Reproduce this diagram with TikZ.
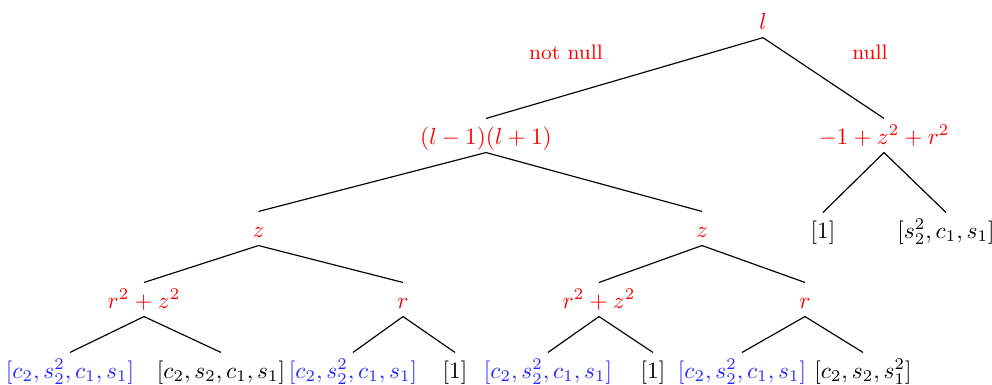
\documentclass[tikz,border=0pt]{standalone}
\usepackage{amsmath}
\begin{document}
\begin{tikzpicture}[x=0.4283pt,y=-0.4283pt,
  tn/.style={text height=1.75ex,text depth=0pt,inner sep=3.33pt},
  rn/.style={tn,text=red},
  bn/.style={tn,text=blue!85},
  kn/.style={tn,text=black},
  lab/.style={text=red,font=\small,inner sep=1pt},
  br/.style={draw=black,line width=0.5pt}]
\useasboundingbox (0,0) rectangle (992,385);
% level 0
\node[rn] (l) at (763,20.6) {$l$};
% level 1
\node[rn] (lm) at (486,135.5) {$(l-1)(l+1)$};
\node[rn] (mz) at (884,135.5) {$-1+z^2+r^2$};
\node[lab] (nn) at (566,52) {not null};
\node[lab] (nu) at (870,52) {null};
% level 2
\node[rn] (zl) at (258.5,228.5) {$z$};
\node[rn] (zr) at (702,228.5) {$z$};
\node[kn] (one0) at (823,229.5) {$[1]$};
\node[kn] (ss) at (946,229.5) {$[s_2^2,c_1,s_1]$};
% level 3
\node[rn] (rzl) at (144,299.5) {$r^2+z^2$};
\node[rn] (rl) at (403,299.5) {$r$};
\node[rn] (rzr) at (599,299.5) {$r^2+z^2$};
\node[rn] (rr) at (805,299.5) {$r$};
% leaves
\node[bn] (a1) at (70,369.5) {$[c_2,s_2^2,c_1,s_1]$};
\node[kn] (a2) at (221,369.5) {$[c_2,s_2,c_1,s_1]$};
\node[bn] (a3) at (353,369.5) {$[c_2,s_2^2,c_1,s_1]$};
\node[kn] (a4) at (455,369.5) {$[1]$};
\node[bn] (a5) at (548,369.5) {$[c_2,s_2^2,c_1,s_1]$};
\node[kn] (a6) at (653,369.5) {$[1]$};
\node[bn] (a7) at (742,369.5) {$[c_2,s_2^2,c_1,s_1]$};
\node[kn] (a8) at (863,369.5) {$[c_2,s_2,s_1^2]$};
% edges
\draw[br] (l.south) -- (lm.north);
\draw[br] (l.south) -- (mz.north);
\draw[br] (lm.south) -- (zl.north);
\draw[br] (lm.south) -- (zr.north);
\draw[br] (mz.south) -- (one0.north);
\draw[br] (mz.south) -- (ss.north);
\draw[br] (zl.south) -- (rzl.north);
\draw[br] (zl.south) -- (rl.north);
\draw[br] (zr.south) -- (rzr.north);
\draw[br] (zr.south) -- (rr.north);
\draw[br] (rzl.south) -- (a1.north);
\draw[br] (rzl.south) -- (a2.north);
\draw[br] (rl.south) -- (a3.north);
\draw[br] (rl.south) -- (a4.north);
\draw[br] (rzr.south) -- (a5.north);
\draw[br] (rzr.south) -- (a6.north);
\draw[br] (rr.south) -- (a7.north);
\draw[br] (rr.south) -- (a8.north);
\end{tikzpicture}
\end{document}
